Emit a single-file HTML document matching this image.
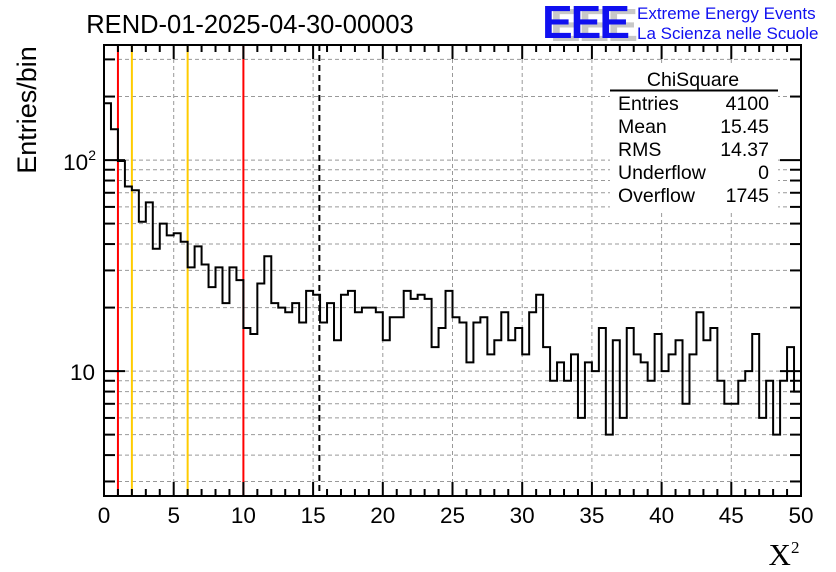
<!DOCTYPE html>
<html><head><meta charset="utf-8"><style>
html,body{margin:0;padding:0;background:#fff;width:836px;height:572px;overflow:hidden;font-family:"Liberation Sans",sans-serif}
svg text{font-family:"Liberation Sans",sans-serif}
</style></head><body>
<svg id="chart" width="836" height="572" viewBox="0 0 836 572" xmlns="http://www.w3.org/2000/svg">
<rect width="836" height="572" fill="#fff"/>
<g id="grid"></g>
<g id="vlines"></g>
<g id="hist"></g>
<g id="stats">
<rect x="610" y="66" width="168" height="144" fill="#fff"/>
<text x="693" y="86" font-size="19.5" text-anchor="middle">ChiSquare</text>
<line x1="610" y1="90.5" x2="778" y2="90.5" stroke="#000" stroke-width="2"/>
</g>
<g id="axes"></g>
<text x="250" y="33" font-size="25.5" text-anchor="middle">REND-01-2025-04-30-00003</text>
<text x="36" y="110" font-size="27" text-anchor="middle" transform="rotate(-90 36 110)">Entries/bin</text>
<text x="784" y="565" font-size="31" text-anchor="middle" style="font-family:'Liberation Serif',serif">X<tspan font-size="17" dy="-12">2</tspan></text>
<g>
<text x="550" y="41" font-size="46" font-weight="bold" fill="#c8c8c8" letter-spacing="-2">EEE</text>
<text x="542" y="38" font-size="46" font-weight="bold" fill="#1010f0" letter-spacing="-2">EEE</text>
<text x="637" y="19" font-size="17" fill="#1010f0">Extreme Energy Events</text>
<text x="637" y="39" font-size="17" fill="#1010f0">La Scienza nelle Scuole</text>
</g>
</svg>
<script>
const counts=[186,140,99,75,72,51,63,38,50,44,45,41,31,39,32,25,31,21,31,27,16,15,26,35,21,20,19,21,17,24,23,17,21,14,23,24,19,20,20,19,14,18,18,24,22,23,22,13,16,24,18,17,11,17,18,12,14,19,14,16,12,19,23,13,9,11,9,12,6,11,10,16,5,14,6,16,12,11,9,15,10,12,14,7,12,19,14,16,9,7,7,9,10,15,6,9,5,9,13,8];
const binWidth=0.5;
const xTicks=[0,5,10,15,20,25,30,35,40,45,50];
const statLabels=["Entries","Mean","RMS","Underflow","Overflow"];
const statValues=["4100","15.45","14.37","0","1745"];
const refLines=[1,2,6,10];
const refColors=["#ff0000","#ffcc00","#ffcc00","#ff0000"];
const meanValue=15.45;

const L=104,R=801,T=45,B=496;
const xMin=0,xMax=50,yMin=Math.log10(2.56),yMax=Math.log10(351);
const sx=v=>L+(v-xMin)/(xMax-xMin)*(R-L);
const sy=v=>B-(Math.log10(v)-yMin)/(yMax-yMin)*(B-T);
const NS="http://www.w3.org/2000/svg";
function mk(tag,attrs,parent){const e=document.createElementNS(NS,tag);for(const k in attrs)e.setAttribute(k,attrs[k]);parent.appendChild(e);return e;}
const grid=document.getElementById('grid'),axes=document.getElementById('axes'),hist=document.getElementById('hist'),vl=document.getElementById('vlines'),stats=document.getElementById('stats');

const logTicks=[];
for(let d=1;d<=100;d*=10)for(let m=1;m<=9;m++){const v=m*d;if(v>=2.56&&v<=351)logTicks.push(v);}
logTicks.forEach(v=>{const y=sy(v);
 const g=mk('line',{x1:L,x2:R,y1:y,y2:y,stroke:'#999','stroke-width':1,'stroke-dasharray':'4,3'},grid);
 
 
 const major=(v===10||v===100);const len=major?21:11;
 mk('line',{x1:L,x2:L+len,y1:y,y2:y,stroke:'#000','stroke-width':2},axes);
 mk('line',{x1:R-len,x2:R,y1:y,y2:y,stroke:'#000','stroke-width':2},axes);
});
xTicks.forEach(v=>{const x=sx(v);
 if(v>0&&v<50){const g=mk('line',{x1:x,x2:x,y1:T,y2:B,stroke:'#999','stroke-width':1,'stroke-dasharray':'4,3'},grid);
 
 }
 const t=mk('text',{x:x,y:523,'font-size':22.5,'text-anchor':'middle'},axes);t.textContent=v;
 
 
});
for(let v=0;v<=50;v++){const x=sx(v);const len=v%5===0?14:7;
 mk('line',{x1:x,x2:x,y1:B,y2:B-len,stroke:'#000','stroke-width':2},axes);
 mk('line',{x1:x,x2:x,y1:T,y2:T+len,stroke:'#000','stroke-width':2},axes);}
let t1=mk('text',{x:95,y:380,'font-size':22.5,'text-anchor':'end'},axes);t1.textContent='10';


let t2=mk('text',{x:96,y:170,'font-size':22.5,'text-anchor':'end'},axes);t2.innerHTML='10<tspan font-size="14" dy="-10">2</tspan>';


mk('rect',{x:L,y:T,width:R-L,height:B-T,fill:'none',stroke:'#000','stroke-width':2},axes);

refLines.forEach((v,i)=>{const l=mk('line',{x1:sx(v),x2:sx(v),y1:T,y2:B,stroke:refColors[i],'stroke-width':2},vl);
 
 });
const ml=mk('line',{x1:sx(meanValue),x2:sx(meanValue),y1:T,y2:B,stroke:'#000','stroke-width':2,'stroke-dasharray':'6,4'},vl);



let d='M'+sx(0)+','+B;
counts.forEach((c,i)=>{const y=sy(c);d+=' L'+sx(i*binWidth)+','+y+' L'+sx((i+1)*binWidth)+','+y;});
const p=mk('path',{d:d,fill:'none',stroke:'#000','stroke-width':2},hist);



statLabels.forEach((s,i)=>{const y=110+i*23;
 const a=mk('text',{x:618,y:y,'font-size':19.5},stats);a.textContent=s;
 
 
 const b=mk('text',{x:769,y:y,'font-size':19.5,'text-anchor':'end'},stats);b.textContent=statValues[i];
 
 });
</script>
</body></html>
